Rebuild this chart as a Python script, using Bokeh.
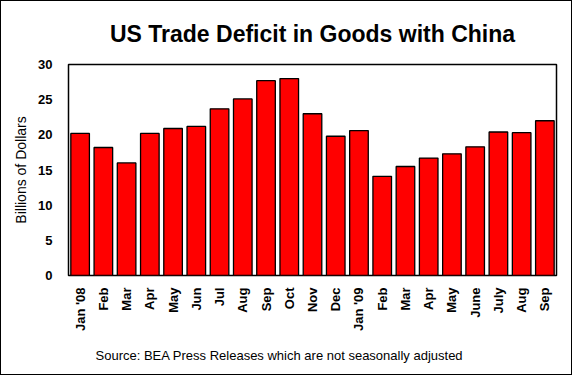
from bokeh.plotting import figure
from bokeh.models import FixedTicker, Title, Range1d, ColumnDataSource
from bokeh.embed import file_html
from bokeh.resources import INLINE

months = ["Jan '08", "Feb", "Mar", "Apr", "May", "Jun", "Jul", "Aug", "Sep", "Oct",
          "Nov", "Dec", "Jan '09", "Feb", "Mar", "Apr", "May", "June", "July", "Aug", "Sep"]
deficit = [20.2, 18.2, 16.0, 20.2, 20.9, 21.2, 23.7, 25.1, 27.7, 28.0,
           23.0, 19.8, 20.6, 14.1, 15.5, 16.7, 17.3, 18.3, 20.4, 20.3, 22.0]
yticks = [0, 5, 10, 15, 20, 25, 30]

pos = list(range(1, len(months) + 1))
src = ColumnDataSource(dict(x=pos, top=deficit))

FONT = "Liberation Sans"

p = figure(width=572, height=375, output_backend="svg", toolbar_location=None,
           x_range=Range1d(0.5, len(months) + 0.5), y_range=Range1d(0, 30),
           min_border_left=67, min_border_right=17, min_border_top=61, min_border_bottom=101)
p.styles = {"border": "1px solid black"}

p.vbar(x="x", top="top", width=0.8, bottom=0, source=src,
       fill_color="#ff0000", line_color="black", line_width=1.3)

p.outline_line_color = "black"
p.outline_line_width = 1.5
p.xgrid.visible = False
p.ygrid.visible = False

p.xaxis.ticker = FixedTicker(ticks=pos)
p.xaxis.major_label_overrides = {i: m for i, m in zip(pos, months)}
p.xaxis.major_label_orientation = 1.5708
p.xaxis.major_tick_line_color = None
p.xaxis.minor_tick_line_color = None
p.xaxis.axis_line_color = None
p.xaxis.major_label_standoff = 6
p.xaxis.major_label_text_font = FONT
p.xaxis.major_label_text_font_style = "bold"
p.xaxis.major_label_text_font_size = "13px"
p.xaxis.major_label_text_color = "black"

p.yaxis.ticker = FixedTicker(ticks=yticks)
p.yaxis.major_tick_line_color = None
p.yaxis.minor_tick_line_color = None
p.yaxis.axis_line_color = None
p.yaxis.major_label_standoff = 10
p.yaxis.major_label_text_font = FONT
p.yaxis.major_label_text_font_style = "bold"
p.yaxis.major_label_text_font_size = "13px"
p.yaxis.major_label_text_color = "black"
p.yaxis.axis_label = "Billions of Dollars"
p.yaxis.axis_label_text_font = FONT
p.yaxis.axis_label_text_font_style = "normal"
p.yaxis.axis_label_text_font_size = "14px"
p.yaxis.axis_label_text_color = "black"
p.yaxis.axis_label_standoff = 6

p.add_layout(Title(text="US Trade Deficit in Goods with China", align="center",
                   text_font=FONT, text_font_size="23px", text_font_style="bold",
                   text_color="black", standoff=35), "above")

p.add_layout(Title(text="Source: BEA Press Releases which are not seasonally adjusted",
                   align="left", offset=27, text_font=FONT, text_font_size="13px",
                   text_font_style="normal", text_color="black", standoff=22), "below")

open("out.html", "w").write(file_html(p, INLINE))
